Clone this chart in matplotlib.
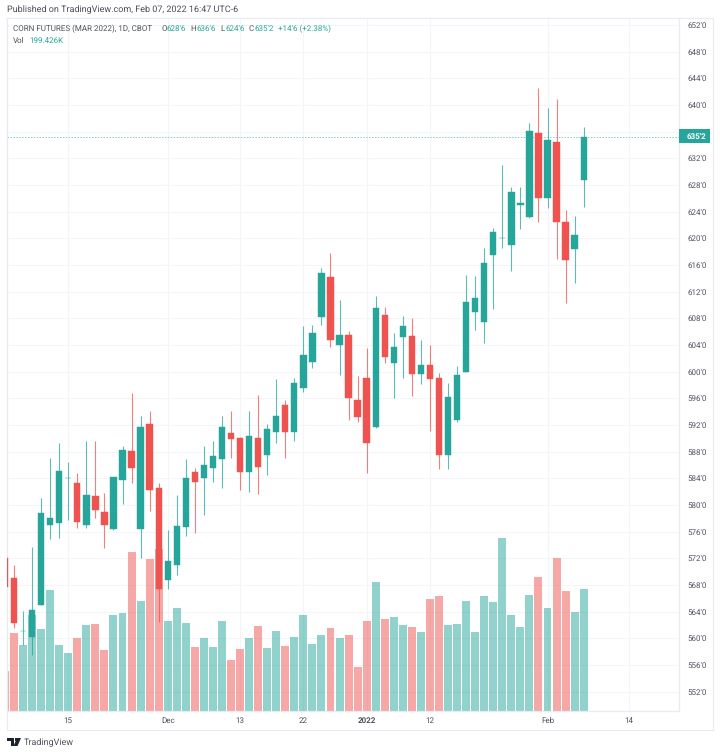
import numpy as np
import matplotlib
matplotlib.use("Agg")
import matplotlib.pyplot as plt
from matplotlib.patches import Rectangle, Polygon

plt.rcParams['font.family'] = ['Roboto', 'DejaVu Sans']
plt.rcParams['text.hinting'] = 'no_hinting'
plt.rcParams['text.hinting_factor'] = 1

# Daily candles, first one is cut off by the left edge of the chart
opens = [572, 569, 561.05, 560.25, 564.95, 576.95, 577.25, 584, 583.35, 576.95, 581.3, 579, 576.4, 583.7, 588.05,
         576.4, 592.1, 582.5, 568.75, 570.95, 576.75, 585, 584, 585.5, 586.95, 590.8, 590.05, 584.95, 590.05,
         587.45, 590.95, 595, 590.95, 597.5, 601.45, 608.2, 614.25, 604, 605.5, 595.75, 599, 591.7, 608.45,
         601.25, 605.25, 605.3, 599.7, 601, 599, 587.5, 592.75, 600, 608.95, 607.5, 617.5, 620, 618.95, 625,
         623.25, 635.75, 626, 634.45, 622.45, 618.45, 628.75]
highs = [572, 571, 564.1, 573.75, 581, 587, 589.35, 586.5, 584.75, 589.6, 589.6, 581.75, 584.25, 588.85, 596.75,
         593.35, 594.05, 583.35, 576.25, 581.5, 586.85, 585.5, 588.85, 589.6, 593.35, 594.05, 590.25, 594.05,
         596.5, 592.1, 598.85, 595.75, 599.05, 606.85, 607, 615.55, 617.75, 610.75, 606.05, 599.35, 603.5,
         611.35, 609.75, 605.75, 608.3, 608.05, 604.8, 604.05, 599.75, 598.25, 600.85, 614.5, 614.35, 618.5,
         621.5, 631, 627.75, 627.75, 637.35, 642.5, 639.55, 640.85, 624.25, 623.35, 636.75]
lows = [567.75, 561.6, 559, 557.5, 564.95, 574.85, 575.05, 577.75, 576.5, 576.5, 578, 573.6, 576.3, 580.1, 583.35,
        572.1, 579.1, 562.5, 567.35, 569.55, 575.4, 575.85, 578.55, 583.4, 582.5, 587.05, 582.25, 582, 581.65,
        584.55, 589.35, 587.05, 589.55, 597, 600.55, 607, 603.75, 599.55, 592.8, 592.5, 584.85, 591.6, 601.35,
        596.1, 599.05, 596.3, 598.1, 591.05, 585.35, 585.35, 592.5, 600, 606.25, 604.35, 609.35, 618.5, 615.05,
        621.35, 623.05, 622.5, 624.5, 616.85, 610.35, 613.35, 624.75]
closes = [567.75, 562.25, 561.05, 564.25, 578.75, 578.05, 585.05, 584, 577.5, 581.55, 579.25, 576.95, 584.25,
          588.25, 585.5, 591.75, 582.25, 567.45, 571.55, 576.8, 584.05, 583.5, 586.05, 587.3, 591.75, 589.95,
          584.95, 590.3, 585.7, 591.35, 593.35, 590.95, 598.25, 602.5, 605.75, 614.8, 604.75, 605.5, 596, 593.25,
          589.25, 609.5, 602.2, 603.75, 606.8, 599.7, 601, 598.95, 587.5, 596.25, 599.55, 610.5, 611, 616.25,
          621, 620, 627, 625.3, 636.05, 626, 634.75, 622.45, 616.75, 620.45, 635.25]
# Volume in thousands
volumes = [65.2, 127.2, 107.6, 156.5, 133.2, 197.3, 107.6, 94.0, 118.5, 139.7, 141.3, 99.5, 156.0, 160.3, 259.8,
           179.9, 247.3, 263.6, 146.7, 168.5, 144.0, 104.4, 118.5, 104.4, 146.7, 83.7, 101.1, 118.5, 138.6, 102.2,
           131.0, 106.5, 120.1, 156.0, 109.2, 123.9, 134.8, 118.5, 123.4, 71.2, 146.7, 210.9, 149.5, 152.7, 140.8,
           136.4, 129.4, 182.6, 187.0, 140.8, 141.9, 179.9, 128.8, 188.1, 177.7, 281.5, 157.1, 136.4, 189.1, 218.5,
           168.5, 249.5, 195.1, 162.0, 199.4]

time_ticks = [6, 17, 25, 32, 39, 46, 59, 68]
time_labels = ['15', 'Dec', '13', '22', '2022', '12', 'Feb', '14']
price_ticks = np.arange(552, 653, 4)
last_price = 635.25

GREEN = '#26a69a'
RED = '#ef5350'
GRID = '#f4f5f8'
FRAME = '#e9ebf1'
TEXT = '#50535e'
W, H = 720, 755
TICK_SIZE = 6.0
HEAD_SIZE = 5.9


def put_text(px, py, s, color=TEXT, size=TICK_SIZE, **kw):
    fig.text(px / W, 1 - py / H, s, color=color, fontsize=size, va='center', **kw)


opens = np.array(opens)
closes = np.array(closes)
x = np.arange(len(opens)) - 1
colors = [GREEN if c >= o else RED for o, c in zip(opens, closes)]

fig = plt.figure(figsize=(W / 100, H / 100), dpi=100)
rect = [7 / W, 1 - 711 / H, 672 / W, 693 / H]

# Volume pane sits below, price pane on top of it
ax_vol = fig.add_axes(rect, zorder=1)
ax = fig.add_axes(rect, zorder=2)
ax.patch.set_visible(False)

ax.set_xlim(-0.774, 73.54)
ax.set_ylim(549.1, 653.05)
ax_vol.set_xlim(ax.get_xlim())
ax_vol.set_ylim(0, 1129.6)

# Grid
ax_vol.vlines(time_ticks, 0, 1, color=GRID, lw=0.8, transform=ax_vol.get_xaxis_transform(), zorder=0)
ax_vol.hlines(price_ticks, 0, 1, color=GRID, lw=0.8, transform=ax.get_yaxis_transform(), zorder=0)

ax_vol.bar(x, volumes, width=0.88, color=colors, alpha=0.5, linewidth=0, zorder=2)
ax_vol.set_xticks([])
ax_vol.set_yticks([])

# Candles
ax.axhline(last_price, color='#7fd0c8', lw=0.7, ls=(0, (1.5, 1.5)), zorder=1)
ax.vlines(x, lows, highs, color=colors, lw=0.8, alpha=0.75, zorder=2)
ax.bar(x, closes - opens, bottom=opens, width=0.7, color=colors, edgecolor=colors, linewidth=0.3, zorder=3)

ax.yaxis.tick_right()
ax.set_yticks(price_ticks)
ax.set_yticklabels([f"{p}'0" for p in price_ticks], fontsize=TICK_SIZE, color=TEXT)
ax.set_xticks(time_ticks)
ax.set_xticklabels(time_labels, fontsize=TICK_SIZE, color=TEXT)
ax.get_xticklabels()[4].set_fontweight('bold')
ax.tick_params(axis='y', length=0, pad=5.8)
ax.tick_params(axis='x', length=0, pad=4.4)

for a in (ax, ax_vol):
    for s in a.spines.values():
        s.set_color(FRAME)
        s.set_linewidth(0.8)

# Outer frame and last price tag
fig.add_artist(Rectangle((7 / W, 1 - 730 / H), 706 / W, 712 / H, fill=False, ec=FRAME, lw=0.8,
                         transform=fig.transFigure))
fig.add_artist(Rectangle((679 / W, 1 - 143 / H), 31 / W, 13.5 / H, fc=GREEN, ec='none',
                         transform=fig.transFigure, zorder=5))
put_text(686.5, 136.5, "635'2", color='white', fontweight='bold', zorder=6)

# Header texts
put_text(7, 10, 'Published on TradingView.com, Feb 07, 2022 16:47 UTC-6', color='#4a4d57', size=6.35)
put_text(13, 29, 'CORN FUTURES (MAR 2022), 1D, CBOT', size=HEAD_SIZE)
for lx, vx, label, value in [(161.3, 166.7, 'O', "628'6"), (190.7, 196.7, 'H', "636'6"),
                             (220.7, 225, 'L', "624'6"), (248.7, 254, 'C', "635'2")]:
    put_text(lx, 29, label, size=HEAD_SIZE)
    put_text(vx, 29, value, color=GREEN, size=HEAD_SIZE)
put_text(277.7, 29, "+14'6 (+2.38%)", color=GREEN, size=HEAD_SIZE)
put_text(13, 41, 'Vol', size=HEAD_SIZE)
put_text(29.5, 41, '199.426K', color=GREEN, size=HEAD_SIZE)

# TradingView logo
logo = [[(7, 738), (14, 738), (14, 746), (10.5, 746), (10.5, 741), (7, 741)],
        [(17, 738), (21, 738), (17.5, 746), (13.5, 746)]]
for pts in logo:
    fig.add_artist(Polygon([(px / W, 1 - py / H) for px, py in pts], fc='#1e222d', ec='none',
                           transform=fig.transFigure))
fig.add_artist(Rectangle((14.5 / W, 1 - 741 / H), 2.5 / W, 3 / H, fc='#1e222d', ec='none',
                         transform=fig.transFigure))
put_text(24, 742.5, 'TradingView', color=TEXT, size=6.2)

fig.savefig('out.png', dpi=100, facecolor='white')
